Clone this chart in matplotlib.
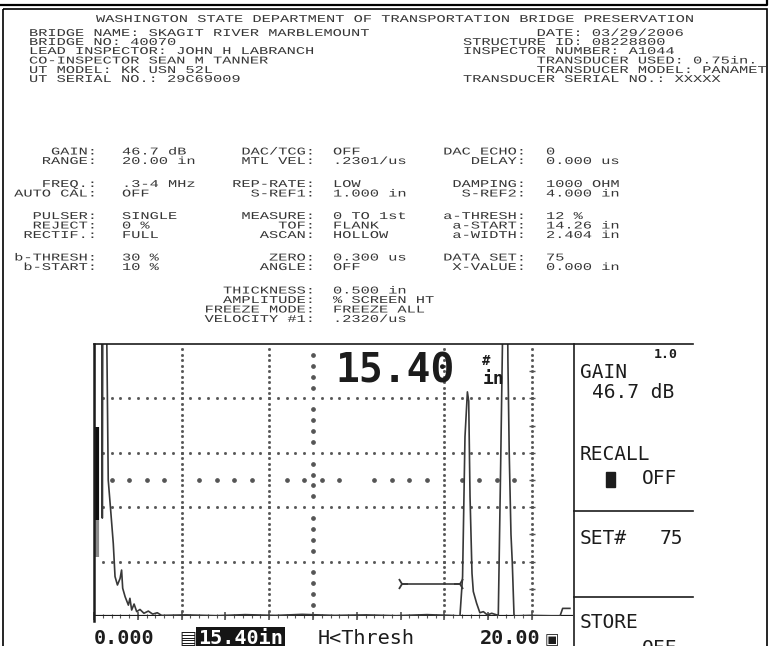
import matplotlib
matplotlib.use("Agg")
import matplotlib.pyplot as plt
import matplotlib.patheffects as pe
from matplotlib.patches import Rectangle
from matplotlib.transforms import Affine2D
import numpy as np

# PAGE SIZE (pixels) - page axes use pixel coords, y down
W, H = 775, 646
DPI = 100

# ---- REPORT HEADER ----
TITLE = "WASHINGTON STATE DEPARTMENT OF TRANSPORTATION BRIDGE PRESERVATION"
HEADER_LEFT = [
    "BRIDGE NAME: SKAGIT RIVER MARBLEMOUNT",
    "BRIDGE NO: 40070",
    "LEAD INSPECTOR: JOHN H LABRANCH",
    "CO-INSPECTOR SEAN M TANNER",
    "UT MODEL: KK USN 52L",
    "UT SERIAL NO.: 29C69009",
]
HEADER_RIGHT = [
    "        DATE: 03/29/2006",
    "STRUCTURE ID: 08228800",
    "INSPECTOR NUMBER: A1044",
    "        TRANSDUCER USED: 0.75in.",
    "        TRANSDUCER MODEL: PANAMETRICS",
    "TRANSDUCER SERIAL NO.: XXXXX",
]
HEADER_ROWS_Y = [33, 42, 51, 60.5, 70, 79]

# ---- INSTRUMENT SETTINGS ----
SET_ROWS_Y = [151.5, 161, 184, 193.5, 216, 225.5, 235, 257.5, 267]
COL1_LABELS = ["GAIN:", "RANGE:", "FREQ.:", "AUTO CAL:", "PULSER:", "REJECT:", "RECTIF.:", "b-THRESH:", "b-START:"]
COL1_VALUES = ["46.7 dB", "20.00 in", ".3-4 MHz", "OFF", "SINGLE", "0 %", "FULL", "30 %", "10 %"]
COL2_LABELS = ["DAC/TCG:", "MTL VEL:", "REP-RATE:", "S-REF1:", "MEASURE:", "TOF:", "ASCAN:", "ZERO:", "ANGLE:"]
COL2_VALUES = ["OFF", ".2301/us", "LOW", "1.000 in", "0 TO 1st", "FLANK", "HOLLOW", "0.300 us", "OFF"]
COL3_LABELS = ["DAC ECHO:", "DELAY:", "DAMPING:", "S-REF2:", "a-THRESH:", "a-START:", "a-WIDTH:", "DATA SET:", "X-VALUE:"]
COL3_VALUES = ["0", "0.000 us", "1000 OHM", "4.000 in", "12 %", "14.26 in", "2.404 in", "75", "0.000 in"]
EXTRA_ROWS_Y = [290.5, 300, 309.5, 319]
EXTRA_LABELS = ["THICKNESS:", "AMPLITUDE:", "FREEZE MODE:", "VELOCITY #1:"]
EXTRA_VALUES = ["0.500 in", "% SCREEN HT", "FREEZE ALL", ".2320/us"]

# ---- A-SCAN (x in inches, y in % screen height) ----
trace_x = [0.00, 0.02, 0.30, 0.36, 0.38, 0.40, 0.58, 0.65, 0.76, 0.88,
           0.96, 1.07, 1.19, 1.26, 1.31, 1.42, 1.57, 1.64, 1.72, 1.83,
           1.95, 2.10, 2.28, 2.48, 2.68, 2.89, 3.09, 4.20, 5.60, 6.90,
           8.30, 9.50, 11.00, 12.40, 13.80, 15.20, 16.30, 16.71, 16.83, 16.94,
           17.05, 17.11, 17.17, 17.26, 17.32, 17.47, 17.62, 17.78, 17.96, 18.16,
           18.39, 18.46, 18.57, 18.66, 18.89, 18.90, 18.96, 19.04, 19.10, 19.18,
           19.90, 21.28, 21.40, 21.73]
trace_y = [0, 105, 105, 105, 36, 105, 105, 50, 39, 26.7,
           14.5, 11.4, 13.8, 16.9, 10.2, 7.1, 4.0, 6.5, 2.2, 4.4,
           1.6, 2.4, 1.0, 1.8, 0.7, 1.2, 0.2, 0.4, 0.1, 0.5,
           0.2, 0.6, 0.2, 0.4, 0.1, 0.5, 0.2, 0.0, 14.5, 65.9,
           82.4, 79.0, 44.0, 15.7, 9.0, 4.7, 1.2, 1.6, 0.4, 1.0,
           0.4, 0.0, 56.0, 105, 105, 94, 60, 30, 19.6, 0.0,
           0.2, 0.0, 2.8, 2.8]
gain_bar_x = 0.12
gain_bar_dark = [35.3, 69.6]
gain_bar_light = [21.8, 35.3]
gate_start, gate_end, gate_level = 14.05, 16.70, 11.8
READING = "15.40"
SCALE_LEFT, SCALE_RIGHT = "0.000", "20.00"
SIDE_MENU = [("GAIN", 373), ("RECALL", 455), ("SET#", 539), ("STORE", 623)]
SIDE_VALUES = [("46.7 dB", 592, 393), ("OFF", 642, 479), ("75", 660, 539), ("OFF", 642, 649)]

# screen geometry (page pixels)
SCR_L, SCR_R, SCR_T, SCR_B = 94, 573, 344, 616
PX_PER_IN = (532 - SCR_L) / 20.0
X_MAX = (SCR_R - SCR_L) / PX_PER_IN

INK = "#363636"
LCD = "#1c1c1c"
REPORT_FONT = "Liberation Mono"
REPORT_SIZE = 7.5
CHAR_W = 9.2
STRETCH = CHAR_W / (0.6 * REPORT_SIZE * DPI / 72)


class Stretch(pe.AbstractPathEffect):
    # the scanned Courier is wider than any installed mono font
    def __init__(self, sx):
        super().__init__()
        self.sx = sx

    def draw_path(self, renderer, gc, tpath, affine, rgbFace=None):
        renderer.draw_path(gc, tpath, Affine2D().scale(self.sx, 1.0) + affine, rgbFace)


def report_text(ax, x, y, s):
    return ax.text(x, y, s, family=REPORT_FONT, size=REPORT_SIZE, color=INK,
                   ha="left", va="center", path_effects=[Stretch(STRETCH)])


def label_value(ax, right, vx, y, label, value):
    report_text(ax, right - len(label) * CHAR_W, y, label)
    report_text(ax, vx, y, value)


fig = plt.figure(figsize=(W / DPI, H / DPI), dpi=DPI, facecolor="white")

# screen axes (data coords)
scr = fig.add_axes([SCR_L / W, 1 - SCR_B / H, (SCR_R - SCR_L) / W, (SCR_B - SCR_T) / H])
scr.set_xlim(0, X_MAX)
scr.set_ylim(0, 100)
scr.axis("off")
scr.set_zorder(1)

# page axes on top, transparent
page = fig.add_axes([0, 0, 1, 1])
page.set_xlim(0, W)
page.set_ylim(H, 0)
page.axis("off")
page.patch.set_visible(False)
page.set_zorder(2)

# 1. PAGE FRAME + HEADER
page.plot([0, 767, 767], [5, 5, 0], color="k", lw=1.6)
box = Rectangle((3, 8.5), 764, 700, fill=False, ec="k", lw=1.2)
page.add_patch(box)

report_text(page, 395 - len(TITLE) * CHAR_W / 2, 19, TITLE)
for y, s in zip(HEADER_ROWS_Y, HEADER_LEFT):
    report_text(page, 29, y, s)
for y, s in zip(HEADER_ROWS_Y, HEADER_RIGHT):
    t = report_text(page, 463, y, s)
    t.set_clip_path(box)
    t.set_clip_on(True)

# 2. SETTINGS TABLE
for i, y in enumerate(SET_ROWS_Y):
    label_value(page, 97, 122, y, COL1_LABELS[i], COL1_VALUES[i])
    label_value(page, 315, 333, y, COL2_LABELS[i], COL2_VALUES[i])
    label_value(page, 526, 546, y, COL3_LABELS[i], COL3_VALUES[i])
for y, lab, val in zip(EXTRA_ROWS_Y, EXTRA_LABELS, EXTRA_VALUES):
    label_value(page, 315, 333, y, lab, val)

# 3. SCREEN GRATICULE
dot = dict(ls="none", color="#555555", clip_on=False)
fine_x = np.arange(0.4, 20.01, 0.4)
fine_y = np.arange(2, 100, 2)
for gy in [20, 40, 60, 80]:
    scr.plot(fine_x, np.full(fine_x.size, gy), marker="s", ms=1.0, **dot)
for gx in [4, 8, 16, 20]:
    scr.plot(np.full(fine_y.size, gx), fine_y, marker="s", ms=1.0, **dot)
big_x = [k * 0.8 for k in range(1, 25) if k % 5]
big_y = [k * 4 for k in range(1, 25) if k % 5]
scr.plot(big_x, np.full(len(big_x), 50), marker="o", ms=2.4, **dot)
scr.plot(np.full(len(big_y), 10), big_y, marker="o", ms=2.4, **dot)
scr.plot(np.full(9, 20), np.arange(10, 100, 10), marker="_", ms=5, mew=1, **dot)
scr.plot(np.arange(0, 20.01, 2), np.zeros(11), marker="|", ms=6, mew=1.2, **dot)
scr.plot(fine_x, np.zeros(fine_x.size), marker="|", ms=3, mew=0.8, **dot)
scr.axhline(0, color=LCD, lw=1.6)

# 4. A-SCAN TRACE, GAIN BAR, GATE
scr.plot([gain_bar_x, gain_bar_x], gain_bar_dark, color="#111", lw=3, solid_capstyle="butt")
scr.plot([gain_bar_x, gain_bar_x], gain_bar_light, color="#8a8a8a", lw=3, solid_capstyle="butt")
scr.plot(trace_x, trace_y, color="#383838", lw=1.2)
scr.plot([gate_start, gate_end], [gate_level, gate_level], color="#383838", lw=1.2)
scr.plot([gate_start], [gate_level], marker="4", ms=9, mew=1.3, color="#383838")
scr.plot([gate_end], [gate_level], marker="3", ms=9, mew=1.3, color="#383838")

# screen frame + side menu boxes
page.plot([SCR_L, SCR_L], [SCR_T, 621], color=LCD, lw=1.8)
page.plot([SCR_L, 693], [SCR_T, SCR_T], color=LCD, lw=1.2)
page.plot([574, 574], [SCR_T, H], color=LCD, lw=1.2)
page.plot([574, 693], [511, 511], color=LCD, lw=1.2)
page.plot([574, 693], [597, 597], color=LCD, lw=1.2)

# 5. SCREEN TEXT
mono = "DejaVu Sans Mono"
page.text(395, 371, READING, family=mono, weight="bold", size=28.5, color=LCD, ha="center", va="center")
page.text(486, 361, "#", family=mono, weight="bold", size=10, color=LCD, ha="center", va="center")
page.text(494, 379, "in", family=mono, weight="bold", size=13, color=LCD, ha="center", va="center")
page.text(678, 354, "1.0", family=mono, weight="bold", size=9.5, color=LCD, ha="right", va="center")
for s, y in SIDE_MENU:
    page.text(580, y, s, family=mono, size=14, color=LCD, ha="left", va="center")
for s, x, y in SIDE_VALUES:
    page.text(x, y, s, family=mono, size=14, color=LCD, ha="left", va="center")
page.add_patch(Rectangle((606, 472), 9, 15, color=LCD))

page.text(94, 639, SCALE_LEFT, family=mono, weight="bold", size=14.5, color=LCD, ha="left", va="center")
page.text(188, 639, "\u25a4", family="DejaVu Sans", size=13, color=LCD, ha="center", va="center")
page.text(198, 639, READING + "in", family=mono, weight="bold", size=14.5, color="white", ha="left", va="center",
          bbox=dict(boxstyle="square,pad=0.12", fc="#151515", ec="none"))
page.text(318, 639, "H<Thresh", family=mono, size=14.5, color=LCD, ha="left", va="center")
page.text(480, 639, SCALE_RIGHT, family=mono, weight="bold", size=14.5, color=LCD, ha="left", va="center")
page.text(552, 640, "\u25a3", family="DejaVu Sans", size=11, color=LCD, ha="center", va="center")

fig.savefig("out.png", dpi=DPI, facecolor="white")
